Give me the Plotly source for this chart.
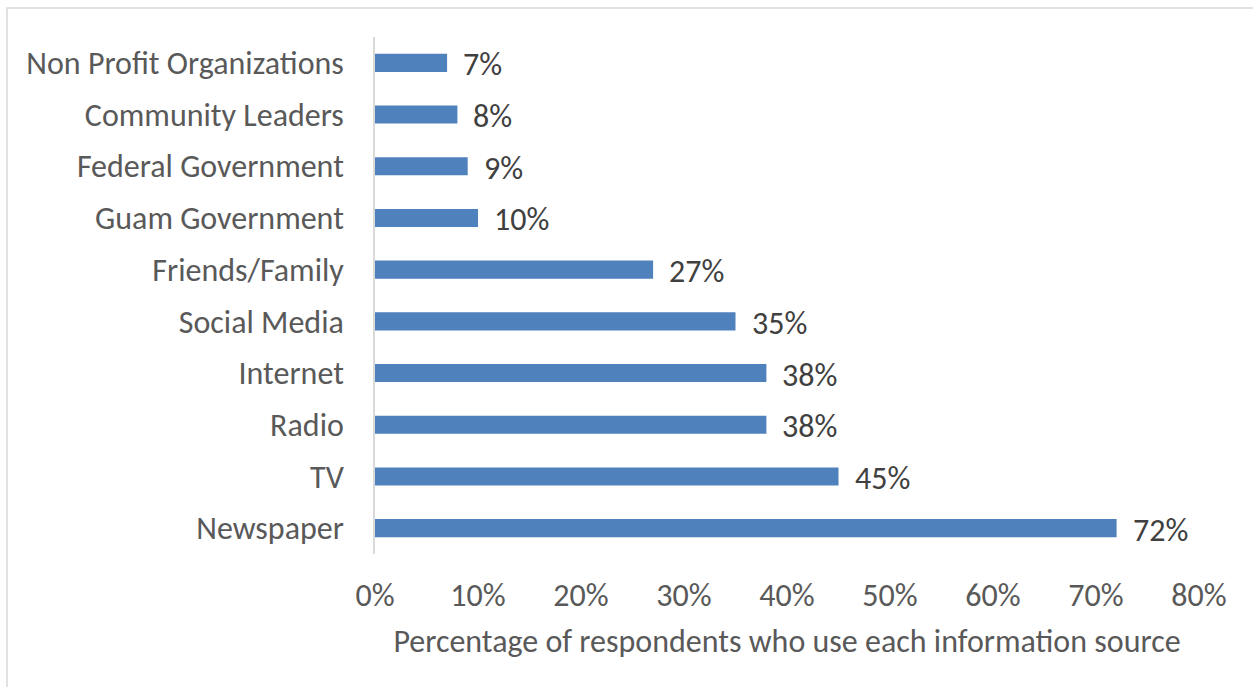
import plotly.graph_objects as go

# Information sources, listed bottom-to-top as drawn
sources = [
    "Newspaper", "TV", "Radio", "Internet", "Social Media",
    "Friends/Family", "Guam Government", "Federal Government",
    "Community Leaders", "Non Profit Organizations",
]
share_pct = [72, 45, 38, 38, 35, 27, 10, 9, 8, 7]

x_ticks = [0, 10, 20, 30, 40, 50, 60, 70, 80]
x_tick_text = [f"{v}%" for v in x_ticks]

W, H = 1253, 687
M_L, M_R, M_T, M_B = 375, 54, 37, 133
FONT = "Calibri, Carlito, Lato, sans-serif"
FS = 32
BAR_COLOR = "#4F81BD"

fig = go.Figure(
    go.Bar(
        x=share_pct,
        y=sources,
        orientation="h",
        marker=dict(color=BAR_COLOR, line=dict(width=0)),
        hoverinfo="skip",
    )
)

# value labels just right of each bar end
for src, val in zip(sources, share_pct):
    fig.add_annotation(
        x=val, y=src, text=f"{val}%", showarrow=False,
        xanchor="left", xshift=14, yshift=-2,
        font=dict(family=FONT, size=FS, color="#404040"),
    )

# outer chart border
pw = W - M_L - M_R
ph = H - M_T - M_B
fig.add_shape(
    type="rect", xref="paper", yref="paper",
    x0=(7 - M_L) / pw, x1=(W + 5 - M_L) / pw,
    y0=-(H + 5 - M_T - ph) / ph, y1=1 + (M_T - 8) / ph,
    line=dict(color="#d9d9d9", width=1.5), fillcolor="rgba(0,0,0,0)",
    layer="below",
)

fig.update_layout(
    width=W, height=H,
    margin=dict(l=M_L, r=M_R, t=M_T, b=M_B, pad=0),
    paper_bgcolor="white", plot_bgcolor="white",
    bargap=0.65,
    showlegend=False,
    font=dict(family=FONT, color="#595959"),
    xaxis=dict(
        range=[0, 80], tickvals=x_ticks, ticktext=x_tick_text,
        showgrid=False, zeroline=False, showline=False,
        tickfont=dict(family=FONT, size=FS, color="#595959"),
        ticklabelstandoff=19,
        title=dict(
            text="Percentage of respondents who use each information source",
            font=dict(family=FONT, size=FS, color="#595959"),
            standoff=15,
        ),
    ),
    yaxis=dict(
        categoryorder="array", categoryarray=sources,
        showgrid=False, zeroline=False,
        showline=True, linecolor="#d9d9d9", linewidth=1.5,
        tickfont=dict(family=FONT, size=FS, color="#595959"),
        ticklabelstandoff=23,
    ),
)

fig.write_html("out.html")
